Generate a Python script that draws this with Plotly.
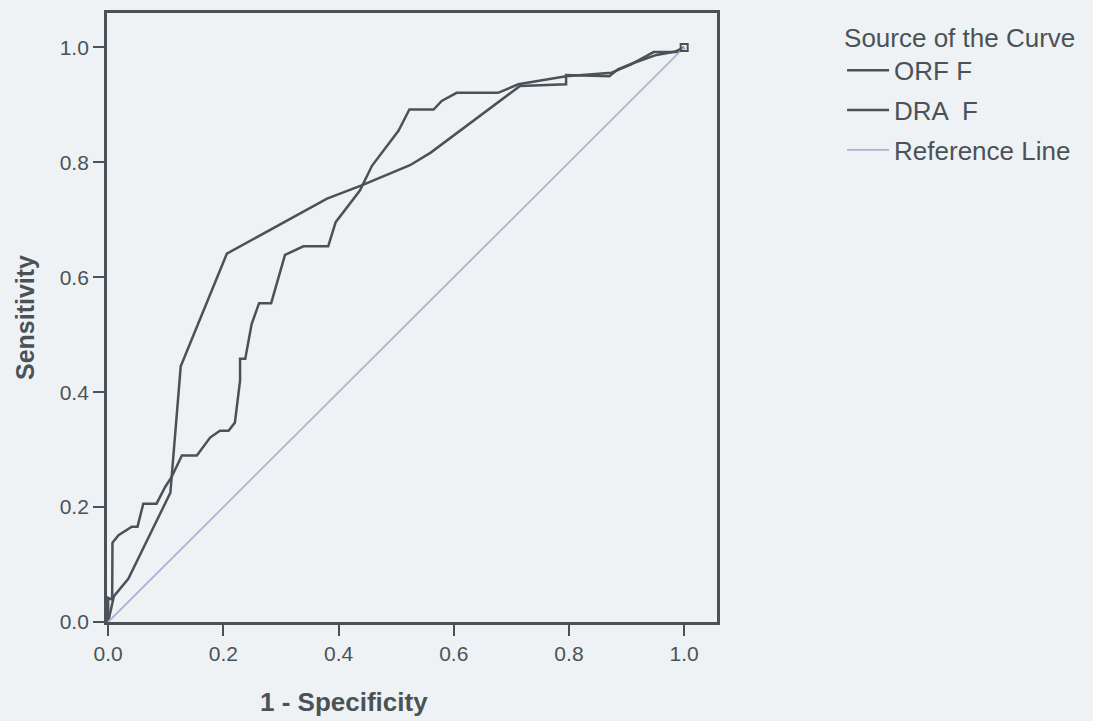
import plotly.graph_objects as go

# ROC curve coordinates (1 - Specificity, Sensitivity)
orf_x = [0.0, 0.010, 0.035, 0.108, 0.126, 0.206, 0.380, 0.440, 0.524, 0.560,
         0.715, 0.795, 0.795, 0.870, 0.885, 0.912, 0.952, 0.985, 1.0]
orf_y = [0.0, 0.045, 0.075, 0.225, 0.445, 0.641, 0.737, 0.760, 0.795, 0.817,
         0.933, 0.936, 0.952, 0.950, 0.962, 0.973, 0.987, 0.993, 1.0]

dra_x = [0.0, 0.0, 0.007, 0.0075, 0.018, 0.041, 0.051, 0.061, 0.084, 0.099,
         0.110, 0.128, 0.154, 0.177, 0.194, 0.209, 0.220, 0.229, 0.229, 0.238,
         0.249, 0.262, 0.283, 0.307, 0.339, 0.382, 0.395, 0.437, 0.458, 0.504,
         0.523, 0.565, 0.579, 0.605, 0.677, 0.712, 0.795, 0.874, 0.907, 0.947,
         0.988, 1.0]
dra_y = [0.0, 0.042, 0.039, 0.138, 0.151, 0.166, 0.166, 0.206, 0.206, 0.235,
         0.252, 0.290, 0.290, 0.321, 0.333, 0.333, 0.347, 0.420, 0.458, 0.458,
         0.518, 0.555, 0.555, 0.639, 0.654, 0.654, 0.696, 0.751, 0.794, 0.855,
         0.892, 0.892, 0.907, 0.921, 0.921, 0.936, 0.950, 0.956, 0.970, 0.992,
         0.992, 1.0]

ref_x = [0.0, 1.0]
ref_y = [0.0, 1.0]

tick_vals = [0.0, 0.2, 0.4, 0.6, 0.8, 1.0]
tick_text = ["0.0", "0.2", "0.4", "0.6", "0.8", "1.0"]

series_names = ["ORF F", "DRA  F", "Reference Line"]
legend_title = "Source of the Curve"
x_title = "1 - Specificity"
y_title = "Sensitivity"

DARK = "#4a5257"
REF = "#adb3d2"
BG = "#eef2f4"
FONT = "Liberation Sans, Arial, sans-serif"

fig = go.Figure()
fig.add_trace(go.Scatter(x=orf_x, y=orf_y, mode="lines", name=series_names[0],
                         legendgroup="a", line=dict(color=DARK, width=2.5)))
fig.add_trace(go.Scatter(x=dra_x, y=dra_y, mode="lines", name=series_names[1],
                         legendgroup="b", line=dict(color=DARK, width=2.5)))
fig.add_trace(go.Scatter(x=ref_x, y=ref_y, mode="lines", name=series_names[2],
                         legendgroup="c", line=dict(color=REF, width=1.8)))
# end-point marker at (1, 1)
fig.add_trace(go.Scatter(x=[orf_x[-1]], y=[orf_y[-1]], mode="markers", showlegend=False,
                         marker=dict(symbol="square-open", size=7, color=DARK,
                                     line=dict(width=2, color=DARK))))

axis_common = dict(
    showgrid=False, zeroline=False,
    showline=True, linecolor=DARK, linewidth=2.8, mirror=True,
    ticks="outside", ticklen=11, tickwidth=2, tickcolor=DARK,
    tickvals=tick_vals, ticktext=tick_text,
    tickfont=dict(family=FONT, size=21, color=DARK),
)

fig.update_layout(
    width=1093, height=721,
    margin=dict(l=107, r=376, t=10, b=99),
    paper_bgcolor=BG, plot_bgcolor=BG,
    font=dict(family=FONT, color=DARK),
    xaxis=dict(range=[-0.002, 1.057], **axis_common),
    yaxis=dict(range=[0.0, 1.06], title=dict(text=y_title,
               font=dict(family=FONT, size=25, color=DARK, weight="bold"), standoff=18),
               **axis_common),
    legend=dict(
        x=1.205, y=1.0, xanchor="left", yanchor="top",
        bgcolor="rgba(0,0,0,0)",
        title=dict(text=legend_title, font=dict(family=FONT, size=26, color=DARK)),
        font=dict(family=FONT, size=26, color=DARK),
        traceorder="grouped", tracegroupgap=3, itemwidth=42,
    ),
    annotations=[dict(
        text=x_title, x=0.41, xref="x", y=-0.132, yref="paper",
        showarrow=False, xanchor="center", yanchor="middle",
        font=dict(family=FONT, size=26, color=DARK, weight="bold"),
    )],
)

fig.write_html(
    "out.html",
    config={"displayModeBar": False},
    post_script="document.body.style.margin='0';document.body.style.background='#eef2f4';",
)
